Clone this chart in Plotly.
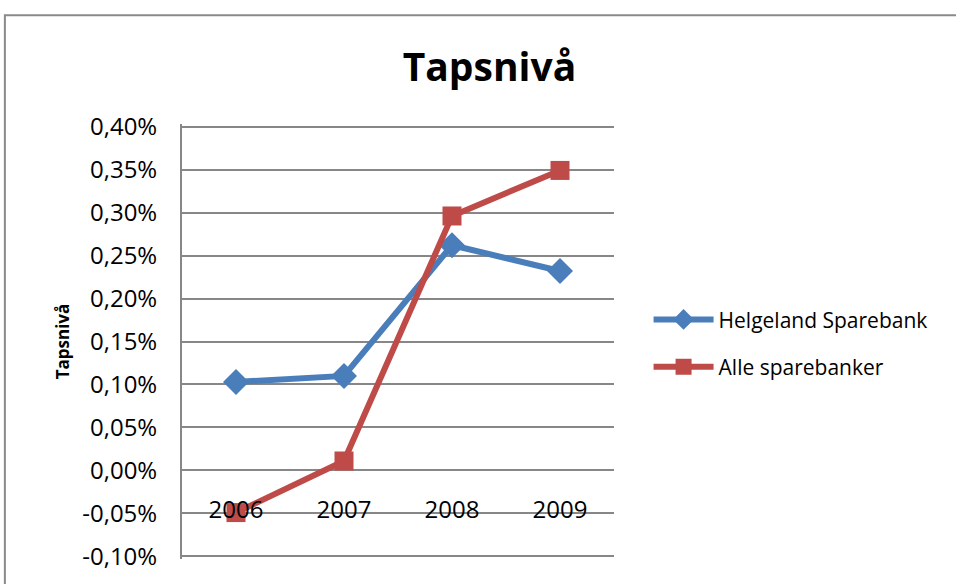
import plotly.graph_objects as go

# data
years = ["2006", "2007", "2008", "2009"]
helgeland = [0.00103, 0.00110, 0.00262, 0.00232]
alle = [-0.00049, 0.00011, 0.00296, 0.00349]
y_ticks = [-0.001, -0.0005, 0, 0.0005, 0.001, 0.0015, 0.002, 0.0025, 0.003, 0.0035, 0.004]
y_labels = ["-0,10%", "-0,05%", "0,00%", "0,05%", "0,10%", "0,15%", "0,20%",
            "0,25%", "0,30%", "0,35%", "0,40%"]

font = "Open Sans"
grid = "#878787"

fig = go.Figure()
fig.add_trace(go.Scatter(x=years, y=helgeland, name="Helgeland Sparebank",
                         mode="lines+markers", legendgroup="a",
                         line=dict(color="#4A7EBB", width=6),
                         marker=dict(symbol="diamond", size=20, color="#4A7EBB")))
fig.add_trace(go.Scatter(x=years, y=alle, name="Alle sparebanker",
                         mode="lines+markers", legendgroup="b",
                         line=dict(color="#BE4B48", width=6),
                         marker=dict(symbol="square", size=19, color="#BE4B48")))

fig.update_layout(
    width=956, height=584,
    margin=dict(l=182, r=342, t=124, b=19),
    paper_bgcolor="white", plot_bgcolor="white",
    font=dict(family=font, size=22, color="black"),
    title=dict(text="<b>Tapsnivå</b>", x=0.512, xanchor="center", y=0.885, yanchor="middle",
               font=dict(family=font, size=39, color="black")),
    legend=dict(x=1.08, xanchor="left", y=0.597, yanchor="top",
                font=dict(family=font, size=21), traceorder="grouped",
                tracegroupgap=17, itemwidth=60),
    showlegend=True,
)

fig.update_xaxes(type="category", range=[-0.5, 3.5], anchor="free", position=0.2,
                 showline=False, showgrid=False, ticks="", tickfont=dict(size=24),
                 ticklabelstandoff=21)
# small pad so plotly still draws the gridlines at -0,10% and 0,40%
fig.update_yaxes(range=[-0.00103, 0.00403], tickvals=y_ticks, ticktext=y_labels,
                 showgrid=True, gridcolor=grid, gridwidth=2,
                 zeroline=True, zerolinecolor=grid, zerolinewidth=2,
                 showline=True, linecolor=grid, linewidth=2,
                 ticks="", ticklabelstandoff=18, tickfont=dict(size=24),
                 title=dict(text="<b>Tapsnivå</b>", font=dict(family=font, size=17), standoff=8))

# outer chart border like Excel's chart area
fig.add_shape(type="rect", xref="paper", yref="paper", x0=-0.41, y0=-0.08, x1=1.82, y1=1.25,
              line=dict(color="#8A8A8A", width=2), layer="below")

fig.write_html("out.html", config={"displayModeBar": False},
               post_script="document.body.style.margin='0';")
